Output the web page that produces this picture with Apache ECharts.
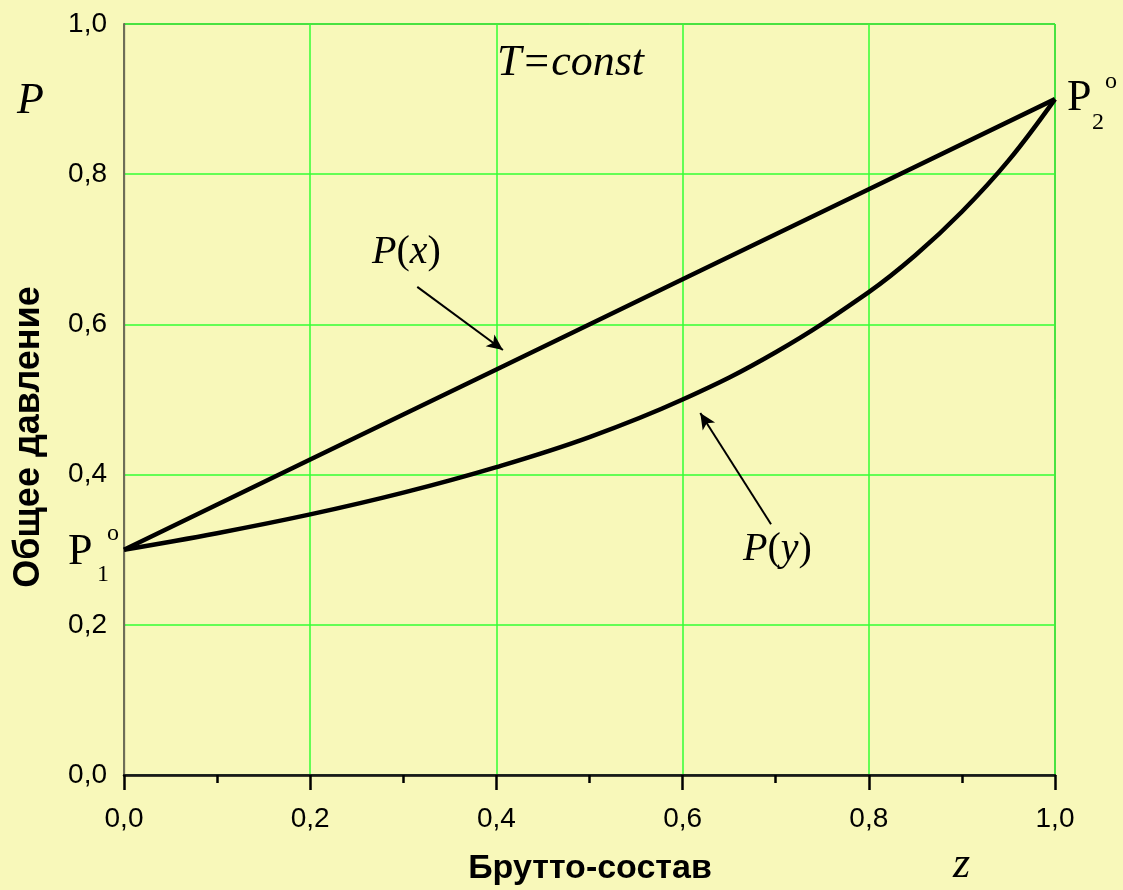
<!DOCTYPE html>
<html>
<head>
<meta charset="utf-8">
<title>P–z диаграмма</title>
<script src="https://cdn.jsdelivr.net/npm/echarts@6/dist/echarts.min.js"></script>
<style>
  html, body { margin: 0; padding: 0; background: #F8F8BA; }
  #chart { width: 1123px; height: 890px; }
</style>
</head>
<body>
<div id="chart"></div>
<script>
// Composition (mole fraction) and total pressure values
const xTicks = [0, 0.2, 0.4, 0.6, 0.8, 1.0];
const yTicks = [0, 0.2, 0.4, 0.6, 0.8, 1.0];

// Boiling line P(x)
const liquidZ = [0, 0.2, 0.4, 0.6, 0.8, 1.0];
const liquidP = [0.30, 0.42, 0.54, 0.66, 0.78, 0.90];

// Dew line P(y)
const vaporZ = [0, 0.1, 0.2, 0.3, 0.4, 0.5, 0.6, 0.7, 0.8, 0.85, 0.9, 0.95, 1.0];
const vaporP = [0.300, 0.322, 0.347, 0.376, 0.410, 0.450, 0.500, 0.563, 0.643, 0.692, 0.750, 0.818, 0.900];

// Pointer arrows: [tail, head] in (z, P)
const arrowX = [[0.315, 0.650], [0.407, 0.566]];
const arrowY = [[0.695, 0.334], [0.619, 0.482]];

const fmt = v => v.toFixed(1).replace('.', ',');
const pairs = (xs, ys) => xs.map((x, i) => [x, ys[i]]);

const chart = echarts.init(document.getElementById('chart'));

const serif = '"Liberation Serif", "DejaVu Serif", serif';
const sans = '"Liberation Sans", Arial, sans-serif';

function txt(text, x, y, size, style, extra) {
  return Object.assign({
    type: 'text', x: x, y: y, z: 10,
    style: {
      text: text, fill: '#000',
      font: (style || 'normal') + ' ' + size + 'px ' + serif,
      textAlign: 'left', textVerticalAlign: 'middle'
    }
  }, extra || {});
}

chart.setOption({
  backgroundColor: '#F8F8BA',
  animation: false,
  grid: { left: 124, right: 68, top: 24, bottom: 115, show: true, borderColor: '#222', borderWidth: 1 },
  xAxis: [{
    type: 'value', min: 0, max: 1, interval: 0.2,
    axisLine: { show: true, onZero: false, lineStyle: { color: '#000', width: 2.5 } },
    axisTick: { show: true, inside: false, length: 15, lineStyle: { color: '#000', width: 2.5 } },
    minorTick: { show: true, splitNumber: 2, length: 8, lineStyle: { color: '#000', width: 2.5 } },
    axisLabel: { formatter: fmt, fontFamily: sans, fontSize: 28, color: '#000', margin: 30 },
    splitLine: { show: true, lineStyle: { color: '#33FF33', width: 1.5 } }
  }, {
    type: 'value', min: 0, max: 1, position: 'top',
    axisLine: { show: true, lineStyle: { color: '#222', width: 1.5 } },
    axisTick: { show: false }, axisLabel: { show: false }, splitLine: { show: false }
  }],
  yAxis: [{
    type: 'value', min: 0, max: 1, interval: 0.2,
    axisLine: { show: true, onZero: false, lineStyle: { color: '#222', width: 1.2 } },
    axisTick: { show: false },
    axisLabel: { formatter: fmt, fontFamily: sans, fontSize: 28, color: '#000', margin: 17 },
    splitLine: { show: true, lineStyle: { color: '#33FF33', width: 1.5 } }
  }, {
    type: 'value', min: 0, max: 1, position: 'right',
    axisLine: { show: true, lineStyle: { color: '#6E6E58', width: 2 } },
    axisTick: { show: false }, axisLabel: { show: false }, splitLine: { show: false }
  }],
  series: [{
    name: 'P(x)', type: 'line', data: pairs(liquidZ, liquidP),
    showSymbol: false, lineStyle: { color: '#000', width: 4.5 }, z: 5,
    markLine: {
      silent: true, symbol: ['none', 'arrow'], symbolSize: [11, 16],
      label: { show: false },
      lineStyle: { color: '#000', width: 2, type: 'solid' },
      data: [
        [{ coord: arrowX[0] }, { coord: arrowX[1] }],
        [{ coord: arrowY[0] }, { coord: arrowY[1] }]
      ]
    }
  }, {
    name: 'P(y)', type: 'line', data: pairs(vaporZ, vaporP), smooth: 0.4,
    showSymbol: false, lineStyle: { color: '#000', width: 4.5 }, z: 5
  }],
  graphic: [
    txt('P', 17, 101, 44, 'italic'),
    txt('T=const', 497, 63, 44, 'italic'),
    txt('P', 68, 552, 44),
    txt('1', 97, 575, 24),
    txt('o', 107, 534, 24),
    txt('P', 1067, 98, 44),
    txt('2', 1092, 123, 24),
    txt('o', 1105, 82, 24),
    {
      type: 'text', x: 372, y: 252, z: 10,
      style: {
        text: '{i|P}{r|(}{i|x}{r|)}', textVerticalAlign: 'middle',
        rich: {
          i: { fontFamily: serif, fontStyle: 'italic', fontSize: 40, fill: '#000' },
          r: { fontFamily: serif, fontSize: 40, fill: '#000' }
        }
      }
    },
    {
      type: 'text', x: 743, y: 549, z: 10,
      style: {
        text: '{i|P}{r|(}{i|y}{r|)}', textVerticalAlign: 'middle',
        rich: {
          i: { fontFamily: serif, fontStyle: 'italic', fontSize: 40, fill: '#000' },
          r: { fontFamily: serif, fontSize: 40, fill: '#000' }
        }
      }
    },
    txt('z', 953, 865, 44, 'italic'),
    {
      type: 'text', x: 590, y: 869, z: 10,
      style: { text: 'Брутто-состав', font: 'bold 34px ' + sans, fill: '#000', textAlign: 'center', textVerticalAlign: 'middle' }
    },
    {
      type: 'text', x: 29, y: 437, rotation: Math.PI / 2, z: 10,
      style: { text: 'Общее давление', font: 'bold 36px ' + sans, fill: '#000', textAlign: 'center', textVerticalAlign: 'middle' }
    }
  ]
});
</script>
</body>
</html>
